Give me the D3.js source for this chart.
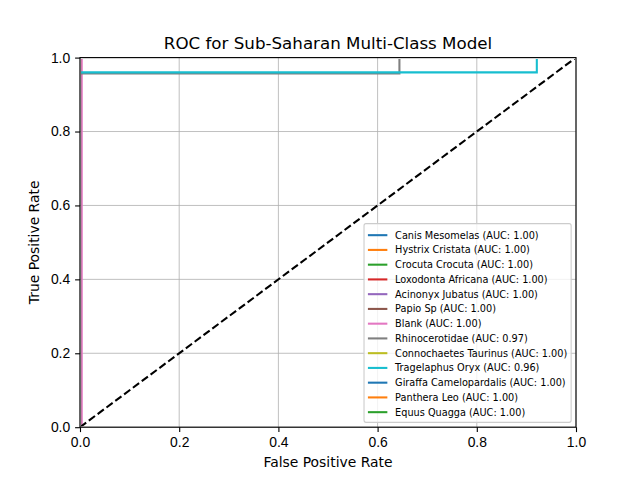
<!DOCTYPE html>
<html>
<head>
<meta charset="utf-8">
<script src="https://cdn.jsdelivr.net/npm/d3@7"></script>
<style>
    body { margin: 0; background: #fff; }
    svg { font-family: "DejaVu Sans", sans-serif; }
    .grid line { stroke: #b0b0b0; stroke-width: 0.8; }
    .axis path { display: none; }
    .axis line { stroke: #000; stroke-width: 1.1; }
    .axis text { font-size: 13.9px; fill: #000; }
</style>
</head>
<body>
<svg id="chart" width="640" height="480"></svg>
<script>
// class names in legend order
const classNames = [
    'Canis Mesomelas', 'Hystrix Cristata', 'Crocuta Crocuta', 'Loxodonta Africana',
    'Acinonyx Jubatus', 'Papio Sp', 'Blank', 'Rhinocerotidae',
    'Connochaetes Taurinus', 'Tragelaphus Oryx', 'Giraffa Camelopardalis',
    'Panthera Leo', 'Equus Quagga'
];
const aucValues = [1.00, 1.00, 1.00, 1.00, 1.00, 1.00, 1.00, 0.97, 1.00, 0.96, 1.00, 1.00, 1.00];

// ROC points per class
const fprValues = [
    [0, 0, 1], [0, 0, 1], [0, 0, 1], [0, 0, 1], [0, 0, 1], [0, 0, 1],
    [0, 0.0035, 0.0035, 1],
    [0, 0, 0.644, 0.644, 1],
    [0, 0, 1],
    [0, 0, 0.921, 0.921, 1],
    [0, 0, 1], [0, 0, 1], [0, 0, 1]
];
const tprValues = [
    [0, 1, 1], [0, 1, 1], [0, 1, 1], [0, 1, 1], [0, 1, 1], [0, 1, 1],
    [0, 0, 1, 1],
    [0, 0.957, 0.957, 1, 1],
    [0, 1, 1],
    [0, 0.96, 0.96, 1, 1],
    [0, 1, 1], [0, 1, 1], [0, 1, 1]
];
const colors = ['#1f77b4', '#ff7f0e', '#2ca02c', '#d62728', '#9467bd', '#8c564b',
                '#e377c2', '#7f7f7f', '#bcbd22', '#17becf'];
const ticks = [0, 0.2, 0.4, 0.6, 0.8, 1.0];

const margin = {top: 57.6, right: 64, bottom: 52.8, left: 80};
const width = 640 - margin.left - margin.right;
const height = 480 - margin.top - margin.bottom;

const svg = d3.select('#chart');
const chart = svg.append('g').attr('transform', 'translate(' + margin.left + ',' + margin.top + ')');

const x = d3.scaleLinear().domain([0, 1]).range([0, width]);
const y = d3.scaleLinear().domain([0, 1]).range([height, 0]);

// clip just inside the frame so lines on the edges hide under it
chart.append('clipPath').attr('id', 'clip')
    .append('rect').attr('x', 1).attr('y', 1.5)
    .attr('width', width - 2).attr('height', height - 2.5);

// grid
let grid = chart.append('g').attr('class', 'grid');
grid.selectAll('.gx').data(ticks).enter().append('line')
    .attr('x1', d => x(d)).attr('x2', d => x(d)).attr('y1', 0).attr('y2', height);
grid.selectAll('.gy').data(ticks).enter().append('line')
    .attr('y1', d => y(d)).attr('y2', d => y(d)).attr('x1', 0).attr('x2', width);

// curves
let line = d3.line().x(d => x(d[0])).y(d => y(d[1]));
let curves = chart.append('g').attr('clip-path', 'url(#clip)');
classNames.forEach(function(name, i) {
    let pts = fprValues[i].map((f, j) => [f, tprValues[i][j]]);
    curves.append('path').datum(pts)
        .attr('d', line)
        .attr('fill', 'none')
        .attr('stroke', colors[i % colors.length])
        .attr('stroke-width', 2.08);
});
curves.append('path').datum([[0, 0], [1, 1]])
    .attr('d', line)
    .attr('fill', 'none')
    .attr('stroke', '#000')
    .attr('stroke-width', 2.08)
    .attr('stroke-dasharray', '7.7,3.3');

// axes
let fmt = d3.format('.1f');
chart.append('g').attr('class', 'x axis')
    .attr('transform', 'translate(0,' + height + ')')
    .call(d3.axisBottom(x).tickValues(ticks).tickFormat(fmt).tickSizeInner(4.9).tickPadding(4.9));
chart.append('g').attr('class', 'y axis')
    .call(d3.axisLeft(y).tickValues(ticks).tickFormat(fmt).tickSizeInner(4.9).tickPadding(4.9));

// frame
chart.append('rect').attr('width', width).attr('height', height)
    .attr('fill', 'none').attr('stroke', '#000').attr('stroke-width', 1.1);

// titles
svg.append('text').attr('x', margin.left + width / 2).attr('y', 49)
    .attr('text-anchor', 'middle').style('font-size', '16.7px')
    .text('ROC for Sub-Saharan Multi-Class Model');
svg.append('text').attr('x', margin.left + width / 2).attr('y', 467)
    .attr('text-anchor', 'middle').style('font-size', '13.9px')
    .text('False Positive Rate');
svg.append('text').attr('transform', 'translate(39,' + (margin.top + height / 2) + ') rotate(-90)')
    .attr('text-anchor', 'middle').style('font-size', '13.9px')
    .text('True Positive Rate');

// legend, lower right
const fs = 9.72;
const rowH = 14.75;
let legend = chart.append('g');
let box = legend.append('rect').attr('rx', 2).attr('ry', 2)
    .attr('fill', 'rgba(255,255,255,0.8)').attr('stroke', '#cccccc').attr('stroke-width', 1.1);
let rows = legend.selectAll('.row').data(classNames).enter().append('g');
rows.append('line').attr('x1', 0).attr('x2', 2 * fs)
    .attr('stroke', (d, i) => colors[i % colors.length]).attr('stroke-width', 2.08);
rows.append('text').attr('x', 2.8 * fs).attr('dy', '0.35em')
    .style('font-size', fs + 'px')
    .text((d, i) => d + ' (AUC: ' + aucValues[i].toFixed(2) + ')');
let maxW = d3.max(rows.selectAll('text').nodes(), n => n.getComputedTextLength());
let boxW = 0.4 * fs * 2 + 2.8 * fs + maxW;
let boxH = classNames.length * rowH + 0.4 * fs * 2 - 0.5 * fs + 4;
let bx = width - 0.5 * fs - boxW;
let by = height - 0.5 * fs - boxH;
box.attr('x', bx).attr('y', by).attr('width', boxW).attr('height', boxH);
rows.attr('transform', (d, i) => 'translate(' + (bx + 0.4 * fs) + ',' + (by + 11.5 + i * rowH) + ')');
</script>
</body>
</html>
